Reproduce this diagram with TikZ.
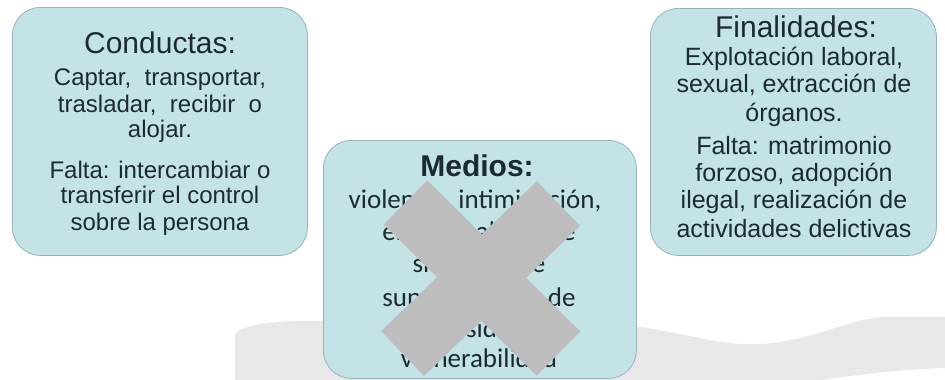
\documentclass[tikz,border=0pt]{standalone}
\usepackage{fontspec}
\setmainfont{Liberation Sans}
\newfontfamily\carlfont{Carlito}
\definecolor{boxfill}{HTML}{C3E3E6}
\definecolor{boxedge}{HTML}{94B4B9}
\definecolor{txt}{HTML}{1C2A33}
\definecolor{bandgray}{HTML}{E8E8E8}
\definecolor{xgray}{HTML}{BDBDBD}
\begin{document}
\begin{tikzpicture}[x=1pt,y=-1pt,
  box/.style={draw=boxedge, fill=boxfill, rounded corners=28pt, line width=0.8pt, inner sep=0pt, anchor=north west},
  ttl/.style={anchor=base, text=txt, inner sep=0pt, font=\fontsize{30}{30}\selectfont},
  lnl/.style={anchor=base, text=txt, inner sep=0pt, font=\fontsize{24}{24}\selectfont},
  lnr/.style={anchor=base, text=txt, inner sep=0pt, font=\fontsize{25}{25}\selectfont},
  mttl/.style={anchor=base, text=txt, inner sep=0pt, font=\fontsize{30}{30}\selectfont\bfseries},
  lnm/.style={anchor=base, text=txt, inner sep=0pt, font=\carlfont\fontsize{27}{27}\selectfont},
  xstroke/.style={draw=xgray, line width=62pt, line cap=butt}
]
\useasboundingbox (0,0) rectangle (945,380);
% background wavy band
\fill[bandgray] (235,334) .. controls (245,322) and (290,320) .. (330,321)
  -- (640,327) .. controls (690,334) and (720,346) .. (760,344)
  .. controls (810,342) and (850,318) .. (885,317) -- (945,317) -- (945,368)
  .. controls (900,369) and (850,376) .. (820,380) -- (235,380) -- cycle;
% boxes
\node[box, minimum width=295pt, minimum height=248pt] (lbox) at (12,7) {};
\node[box, minimum width=286pt, minimum height=247pt] (rbox) at (650,8) {};
\node[box, minimum width=313pt, minimum height=238pt] (mbox) at (323,140) {};
% left text
\node[ttl] (c0) at (160,53) {Conductas:};
\node[lnl] (c1) at (160,85) {Captar,\ \ transportar,};
\node[lnl] (c2) at (160,112) {trasladar,\ \ recibir\ \ o};
\node[lnl] (c3) at (160,137) {alojar.};
\node[lnl] (c4) at (160,178) {Falta: intercambiar o};
\node[lnl] (c5) at (160,203) {transferir el control};
\node[lnl] (c6) at (160,230) {sobre la persona};
% right text
\node[ttl] (f0) at (796,37) {Finalidades:};
\node[lnr] (f1) at (794,65) {Explotación laboral,};
\node[lnr] (f2) at (794,92) {sexual, extracción de};
\node[lnr] (f3) at (794,121) {órganos.};
\node[lnr] (f4) at (794,154) {Falta: matrimonio};
\node[lnr] (f5) at (794,181) {forzoso, adopción};
\node[lnr] (f6) at (794,208) {ilegal, realización de};
\node[lnr] (f7) at (794,237) {actividades delictivas};
% middle text
\node[mttl] (m0) at (477,176) {Medios:};
\node[lnm] (m1) at (475,208) {violencia, intimidación,};
\node[lnm] (m2) at (479,240) {engaño, abuso de};
\node[lnm] (m3) at (479,272) {situación de};
\node[lnm] (m4) at (479,306) {superioridad o de};
\node[lnm] (m5) at (479,337) {necesidad o};
\node[lnm] (m6) at (479,367) {vulnerabilidad};
% cross
\coordinate (xa1) at (405.5,202.5);
\coordinate (xa2) at (558.5,353.5);
\coordinate (xb1) at (558.5,203.5);
\coordinate (xb2) at (402.5,353.5);
\draw[xstroke] (xa1) -- (xa2);
\draw[xstroke] (xb1) -- (xb2);
\end{tikzpicture}
\end{document}
